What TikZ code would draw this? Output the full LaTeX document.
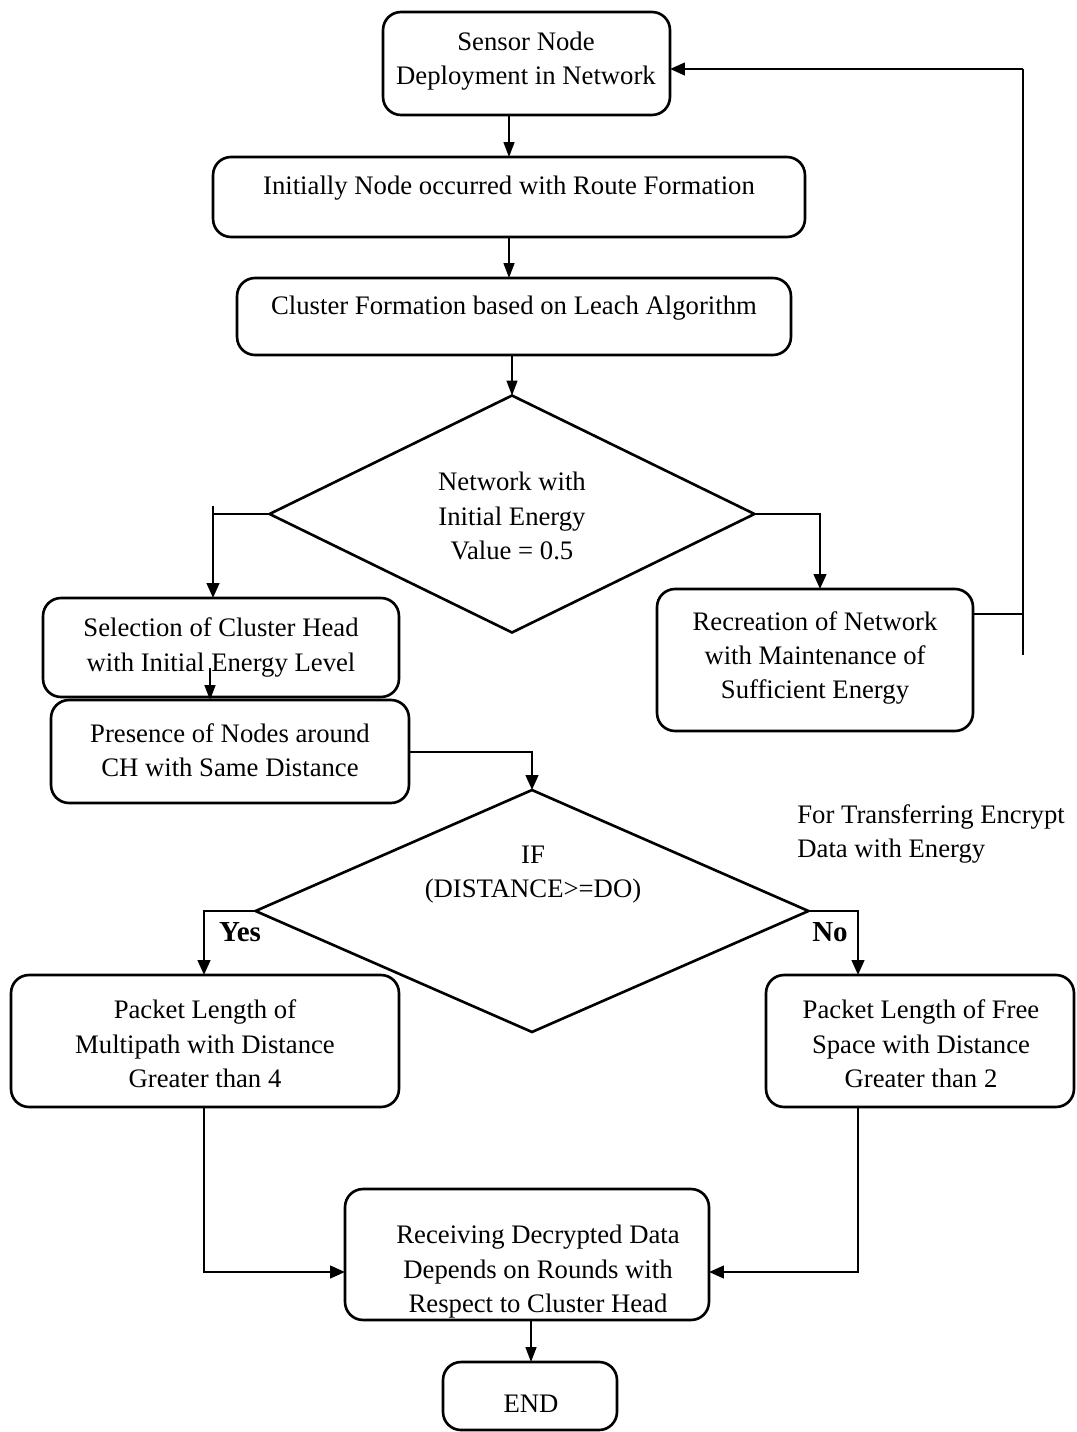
\documentclass[tikz,border=0pt]{standalone}
\usepackage{fontspec}
\setmainfont{Liberation Serif}
\usetikzlibrary{arrows.meta,shapes.geometric}
\begin{document}
\begin{tikzpicture}[x=0.02cm,y=-0.02cm,
  box/.style={draw,rounded corners=0.36cm,line width=1.5pt,inner sep=0pt,outer sep=0pt},
  dia/.style={draw,diamond,line width=1.5pt,inner sep=0pt,outer sep=0pt},
  txt/.style={align=center,inner sep=0pt,font=\fontsize{15.2}{19.6}\selectfont},
  lbl/.style={inner sep=0pt,font=\fontsize{16.5}{19.6}\selectfont\bfseries},
  ln/.style={line width=1.6pt},
  arr/.style={line width=1.6pt,-{Triangle[length=0.3cm,width=0.25cm]}},
  tarr/.style={line width=0.8pt,-{Triangle[length=0.3cm,width=0.22cm]}}]
\useasboundingbox (0,0) rectangle (1077,1432);
% boxes
\node[box,minimum width=5.74cm,minimum height=2.06cm] (b1) at (526.5,63.5) {};
\node[box,minimum width=11.84cm,minimum height=1.6cm] (b2) at (509,197) {};
\node[box,minimum width=11.08cm,minimum height=1.54cm] (b3) at (514,316.5) {};
\node[dia,minimum width=9.7cm,minimum height=4.74cm] (d1) at (512,514) {};
\node[box,minimum width=7.12cm,minimum height=1.98cm] (b4) at (221,647.5) {};
\node[box,minimum width=7.16cm,minimum height=2.06cm] (b5) at (230,751.5) {};
\node[box,minimum width=6.32cm,minimum height=2.84cm] (b9) at (815,660) {};
\node[dia,minimum width=11.06cm,minimum height=4.84cm] (d2) at (532,911) {};
\node[box,minimum width=7.76cm,minimum height=2.64cm] (b6) at (205,1041) {};
\node[box,minimum width=6.16cm,minimum height=2.64cm] (b7) at (920,1041) {};
\node[box,minimum width=7.28cm,minimum height=2.62cm] (b8) at (527,1254.5) {};
\node[box,minimum width=3.48cm,minimum height=1.36cm] (be) at (530,1396) {};
% texts
\node[txt] (t1) at (526,61) {Sensor Node\\Deployment in Network};
\node[txt] (t2) at (509,188) {Initially Node occurred with Route Formation};
\node[txt] (t3) at (514,308) {Cluster Formation based on Leach Algorithm};
\node[txt] (td1) at (512,516) {Network with\\Initial Energy\\Value = 0.5};
\node[txt] (t4) at (221,647.5) {Selection of Cluster Head\\with Initial Energy Level};
\node[txt] (t5) at (230,750) {Presence of Nodes around\\CH with Same Distance};
\node[txt] (t9) at (815,658) {Recreation of Network\\with Maintenance of\\Sufficient Energy};
\node[txt] (td2) at (533,874.5) {IF\\(DISTANCE>=DO)};
\node[txt,align=left,anchor=west] (tn) at (797,834) {For Transferring Encrypt\\Data with Energy};
\node[txt] (t6) at (205,1044) {Packet Length of\\Multipath with Distance\\Greater than 4};
\node[txt] (t7) at (921,1044) {Packet Length of Free\\Space with Distance\\Greater than 2};
\node[txt] (t8) at (538,1271.7) {Receiving Decrypted Data\\Depends on Rounds with\\Respect to Cluster Head};
\node[txt] (te) at (531,1404) {END};
\node[lbl] (yes) at (240,932) {Yes};
\node[lbl] (no) at (830,932) {No};
% junction coordinates
\coordinate (j1) at (213,514);
\coordinate (j1t) at (213,506);
\coordinate (j2) at (820,514);
\coordinate (j3) at (1023,614);
\coordinate (j3b) at (1023,655);
\coordinate (j4) at (1023,69);
\coordinate (s4) at (210,668);
\coordinate (j5) at (858,911);
\coordinate (j6) at (204,911);
\coordinate (j7) at (531,752);
\coordinate (k6) at (204,1272);
\coordinate (k7) at (858,1272);
% connectors
\draw[tarr] (b2.north |- b1.south) -- (b2.north);
\draw[tarr] (b2.south) -- (b2.south |- b3.north);
\draw[tarr] (b3.south -| d1.north) -- (d1.north);
\draw[ln] (d1.west) -- (d1.west -| j1);
\draw[arr] (j1t) -- (j1t |- b4.north);
\draw[arr] (d1.east) -- (d1.east -| j2) -- (j2 |- b9.north);
\draw[ln] (j3 -| b9.east) -- (j3);
\draw[ln] (j3b) -- (j4);
\draw[arr] (j4) -- (j4 -| b1.east);
\draw[tarr] (s4) -- (s4 |- b5.north);
\draw[arr] (j7 -| b5.east) -| (d2.north);
\draw[arr] (d2.west) -- (d2.west -| j6) -- (j6 |- b6.north);
\draw[arr] (d2.east) -- (d2.east -| j5) -- (j5 |- b7.north);
\draw[arr] (k6 |- b6.south) -- (k6) -- (k6 -| b8.west);
\draw[arr] (k7 |- b7.south) -- (k7) -- (k7 -| b8.east);
\draw[tarr] (b8.south -| te) -- (te |- be.north);
\end{tikzpicture}
\end{document}
